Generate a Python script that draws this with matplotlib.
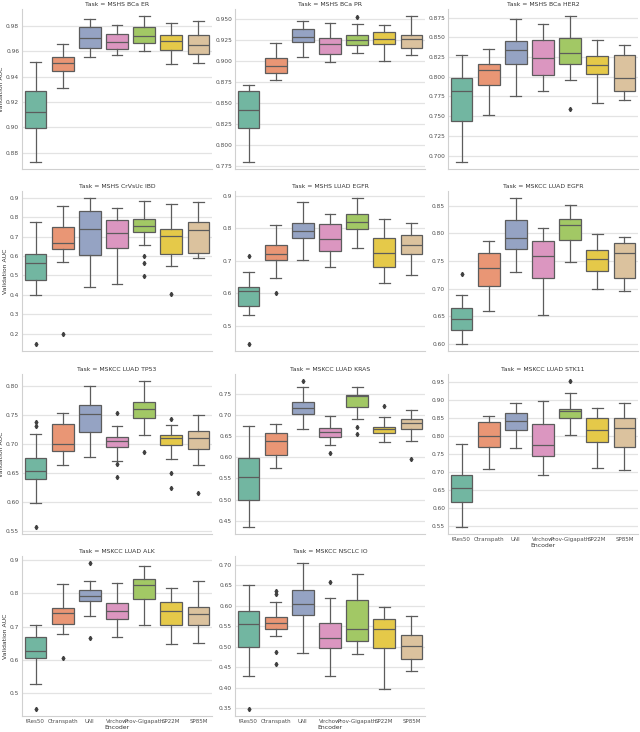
import matplotlib
matplotlib.use("Agg")
import matplotlib.pyplot as plt
import seaborn as sns

encoders = ["tRes50", "Ctranspath", "UNI", "Virchow", "Prov-Gigapath", "SP22M", "SP85M"]

titles = ["Task = MSHS BCa ER", "Task = MSHS BCa PR", "Task = MSHS BCa HER2",
          "Task = MSHS CrVsUc IBD", "Task = MSHS LUAD EGFR", "Task = MSKCC LUAD EGFR",
          "Task = MSKCC LUAD TP53", "Task = MSKCC LUAD KRAS", "Task = MSKCC LUAD STK11",
          "Task = MSKCC LUAD ALK", "Task = MSKCC NSCLC IO"]

# (low whisker, q1, median, q3, high whisker) per encoder
er_stats = [(0.873, 0.8993, 0.9125, 0.929, 0.9514), (0.9313, 0.9444, 0.9511, 0.9555, 0.9658),
            (0.9558, 0.9625, 0.9707, 0.979, 0.9859), (0.9573, 0.962, 0.9674, 0.9738, 0.9808),
            (0.9607, 0.9669, 0.9723, 0.979, 0.9877), (0.9501, 0.9614, 0.9681, 0.9733, 0.9823),
            (0.9511, 0.9581, 0.9651, 0.9733, 0.9839)]
er_fliers = [[], [], [], [], [], [], []]

pr_stats = [(0.78, 0.8196, 0.8417, 0.8634, 0.8716), (0.8774, 0.8848, 0.8941, 0.903, 0.9205),
            (0.9046, 0.9217, 0.9283, 0.938, 0.9473), (0.8984, 0.9081, 0.9197, 0.9271, 0.945),
            (0.9092, 0.9182, 0.9244, 0.9302, 0.943), (0.9, 0.9197, 0.9263, 0.9341, 0.9426),
            (0.9069, 0.9151, 0.9263, 0.931, 0.9527)]
pr_fliers = [[], [], [], [], [0.9516], [], []]

her2_stats = [(0.6922, 0.7436, 0.7817, 0.7979, 0.8277), (0.7515, 0.7892, 0.8083, 0.8161, 0.8352),
              (0.7751, 0.8161, 0.834, 0.8451, 0.8738), (0.7821, 0.8016, 0.824, 0.8472, 0.8671),
              (0.7958, 0.8165, 0.8298, 0.8489, 0.8767), (0.7672, 0.8033, 0.8153, 0.8265, 0.8472),
              (0.7705, 0.7821, 0.7983, 0.8273, 0.8406)]
her2_fliers = [[], [], [], [], [0.7589], [], []]

ibd_stats = [(0.3975, 0.4773, 0.5621, 0.6131, 0.7744), (0.5689, 0.6351, 0.6657, 0.7506, 0.8559),
             (0.4416, 0.608, 0.7421, 0.8338, 0.8983), (0.4535, 0.6436, 0.72, 0.7862, 0.8457),
             (0.6589, 0.7251, 0.7557, 0.7896, 0.8847), (0.5503, 0.6131, 0.7014, 0.7404, 0.8694),
             (0.5876, 0.6148, 0.7336, 0.7778, 0.8779)]
ibd_fliers = [[0.1479], [0.2005], [], [], [0.5995, 0.5621, 0.4959], [0.4059], []]

mshs_egfr_stats = [(0.5328, 0.5602, 0.606, 0.6192, 0.667), (0.6457, 0.7016, 0.72, 0.7474, 0.8105),
                   (0.7037, 0.7708, 0.7922, 0.8166, 0.8827), (0.6813, 0.7311, 0.7677, 0.8135, 0.844),
                   (0.7383, 0.7973, 0.8207, 0.844, 0.8929), (0.6325, 0.6823, 0.725, 0.7708, 0.8288),
                   (0.6558, 0.72, 0.7474, 0.781, 0.8156)]
mshs_egfr_fliers = [[0.7138, 0.4443], [0.5999], [], [], [], [], []]

mskcc_egfr_stats = [(0.6, 0.6243, 0.6445, 0.6641, 0.6879), (0.6594, 0.7045, 0.7366, 0.7645, 0.7871),
                    (0.7295, 0.771, 0.7912, 0.8239, 0.8637), (0.6528, 0.7188, 0.7591, 0.7865, 0.8102),
                    (0.749, 0.7888, 0.8144, 0.8268, 0.8524), (0.6998, 0.7312, 0.7544, 0.7692, 0.7989),
                    (0.695, 0.7188, 0.7651, 0.7829, 0.7942)]
mskcc_egfr_fliers = [[0.7271], [], [], [], [], [], []]

tp53_stats = [(0.5981, 0.6405, 0.6541, 0.6761, 0.7174), (0.6637, 0.688, 0.6999, 0.735, 0.7536),
              (0.6773, 0.7203, 0.7514, 0.7678, 0.80), (0.6705, 0.6942, 0.7061, 0.7123, 0.7316),
              (0.7163, 0.7446, 0.7598, 0.7723, 0.8079), (0.6744, 0.6988, 0.7106, 0.7157, 0.7333),
              (0.6637, 0.6914, 0.7106, 0.7231, 0.7497)]
tp53_fliers = [[0.7372, 0.7316, 0.5579], [], [], [0.7542, 0.6665, 0.6439], [0.6863],
               [0.7434, 0.6495, 0.6241], [0.6162]]

kras_stats = [(0.436, 0.5, 0.5525, 0.5972, 0.6736), (0.5756, 0.6049, 0.6381, 0.6582, 0.6782),
              (0.6659, 0.7014, 0.7168, 0.7292, 0.7662), (0.6281, 0.6489, 0.6605, 0.6697, 0.6968),
              (0.6906, 0.7184, 0.7438, 0.7461, 0.7647), (0.6358, 0.6574, 0.6659, 0.6721, 0.6952),
              (0.6381, 0.6674, 0.6813, 0.6898, 0.7122)]
kras_fliers = [[], [], [0.7793], [0.6096], [0.6713, 0.6551], [0.7215], [0.5964]]

stk11_stats = [(0.5492, 0.6176, 0.6576, 0.6932, 0.7788), (0.7105, 0.7697, 0.8006, 0.8407, 0.8571),
               (0.7688, 0.8179, 0.8425, 0.8653, 0.8935), (0.6932, 0.7451, 0.777, 0.8334, 0.8972),
               (0.8043, 0.8498, 0.8689, 0.8771, 0.919), (0.7132, 0.7842, 0.8179, 0.8498, 0.8781),
               (0.7059, 0.7697, 0.8243, 0.8507, 0.8935)]
stk11_fliers = [[], [], [], [], [0.9527], [], []]

alk_stats = [(0.5277, 0.6059, 0.6248, 0.6693, 0.705), (0.6772, 0.7069, 0.7406, 0.7564, 0.8277),
             (0.7317, 0.7782, 0.7921, 0.8109, 0.8366), (0.6683, 0.7238, 0.7465, 0.7713, 0.8307),
             (0.704, 0.7842, 0.8257, 0.8426, 0.8842), (0.6475, 0.706, 0.7465, 0.7743, 0.8168),
             (0.6505, 0.704, 0.7366, 0.7604, 0.8366)]
alk_fliers = [[0.4515], [0.604], [0.8911, 0.6653], [], [], [], []]

io_stats = [(0.4292, 0.4997, 0.5542, 0.587, 0.6495), (0.5253, 0.5437, 0.5582, 0.5718, 0.6079),
            (0.4853, 0.5766, 0.6038, 0.6383, 0.7032), (0.4292, 0.4973, 0.5213, 0.5566, 0.6191),
            (0.4828, 0.5141, 0.5437, 0.6127, 0.6776), (0.3971, 0.4957, 0.5429, 0.5662, 0.5958),
            (0.4412, 0.47, 0.5021, 0.5285, 0.575)]
io_fliers = [[0.3482], [0.6359, 0.6279, 0.4877, 0.4572], [], [0.6567], [], [], []]

yticks = [[0.88, 0.90, 0.92, 0.94, 0.96, 0.98],
          [0.775, 0.800, 0.825, 0.850, 0.875, 0.900, 0.925, 0.950],
          [0.700, 0.725, 0.750, 0.775, 0.800, 0.825, 0.850, 0.875],
          [0.2, 0.3, 0.4, 0.5, 0.6, 0.7, 0.8, 0.9],
          [0.5, 0.6, 0.7, 0.8, 0.9],
          [0.60, 0.65, 0.70, 0.75, 0.80, 0.85],
          [0.55, 0.60, 0.65, 0.70, 0.75, 0.80],
          [0.45, 0.50, 0.55, 0.60, 0.65, 0.70, 0.75],
          [0.55, 0.60, 0.65, 0.70, 0.75, 0.80, 0.85, 0.90, 0.95],
          [0.5, 0.6, 0.7, 0.8, 0.9],
          [0.35, 0.40, 0.45, 0.50, 0.55, 0.60, 0.65, 0.70]]

all_stats = [er_stats, pr_stats, her2_stats, ibd_stats, mshs_egfr_stats, mskcc_egfr_stats,
             tp53_stats, kras_stats, stk11_stats, alk_stats, io_stats]
all_fliers = [er_fliers, pr_fliers, her2_fliers, ibd_fliers, mshs_egfr_fliers, mskcc_egfr_fliers,
              tp53_fliers, kras_fliers, stk11_fliers, alk_fliers, io_fliers]

W, H = 640, 732
fig = plt.figure(figsize=(W / 100, H / 100), dpi=100)
fig.patch.set_facecolor("white")

pal = [sns.desaturate(c, 0.75) for c in sns.color_palette("Set2", 7)]
col_left = [22, 235, 448]
row_top = [9, 191, 374, 556]
aw, ah = 190, 160
line_c = "0.36"

for i, (title, stats, fliers, yt) in enumerate(zip(titles, all_stats, all_fliers, yticks)):
    r, c = divmod(i, 3)
    ax = fig.add_axes([col_left[c] / W, 1 - (row_top[r] + ah) / H, aw / W, ah / H])
    bxp_stats = []
    for s, f in zip(stats, fliers):
        lo, q1, med, q3, hi = s
        bxp_stats.append(dict(whislo=lo, q1=q1, med=med, q3=q3, whishi=hi, fliers=f))
    bp = ax.bxp(bxp_stats, positions=range(len(encoders)), widths=0.8, patch_artist=True,
                boxprops=dict(linewidth=0.9, edgecolor=line_c),
                whiskerprops=dict(linewidth=0.9, color=line_c),
                capprops=dict(linewidth=0.9, color=line_c),
                medianprops=dict(linewidth=0.9, color=line_c),
                flierprops=dict(marker="d", markersize=2.2, markerfacecolor="0.25",
                                markeredgecolor="0.25", linestyle="none"),
                capwidths=0.4, zorder=3)
    for patch, col in zip(bp["boxes"], pal):
        patch.set_facecolor(col)
    ax.set_xlim(-0.5, len(encoders) - 0.5)
    ax.margins(y=0.05)
    ax.autoscale(axis="y")
    ax.set_yticks(yt)
    ax.yaxis.grid(True, color="#e3e3e3", linewidth=0.9, zorder=0)
    ax.set_axisbelow(True)
    ax.xaxis.grid(False)
    for sp in ["top", "right"]:
        ax.spines[sp].set_visible(False)
    for sp in ["left", "bottom"]:
        ax.spines[sp].set_color("#d0d0d0")
        ax.spines[sp].set_linewidth(0.8)
    ax.tick_params(axis="both", length=0, labelsize=4.2, pad=2, labelcolor="0.3")
    ax.set_title(title, fontsize=4.4, pad=2.5, color="0.2")
    ax.set_facecolor("white")
    show_x = i >= 8
    ax.set_xticks(range(len(encoders)))
    if show_x:
        ax.set_xticklabels(encoders, fontsize=4.0)
        ax.set_xlabel("Encoder", fontsize=4.4, labelpad=1, color="0.2")
    else:
        ax.set_xticklabels([])
    if c == 0:
        ax.set_ylabel("Validation AUC", fontsize=4.4, labelpad=1.5, color="0.2")

fig.savefig("out.png", dpi=100, facecolor="white")
